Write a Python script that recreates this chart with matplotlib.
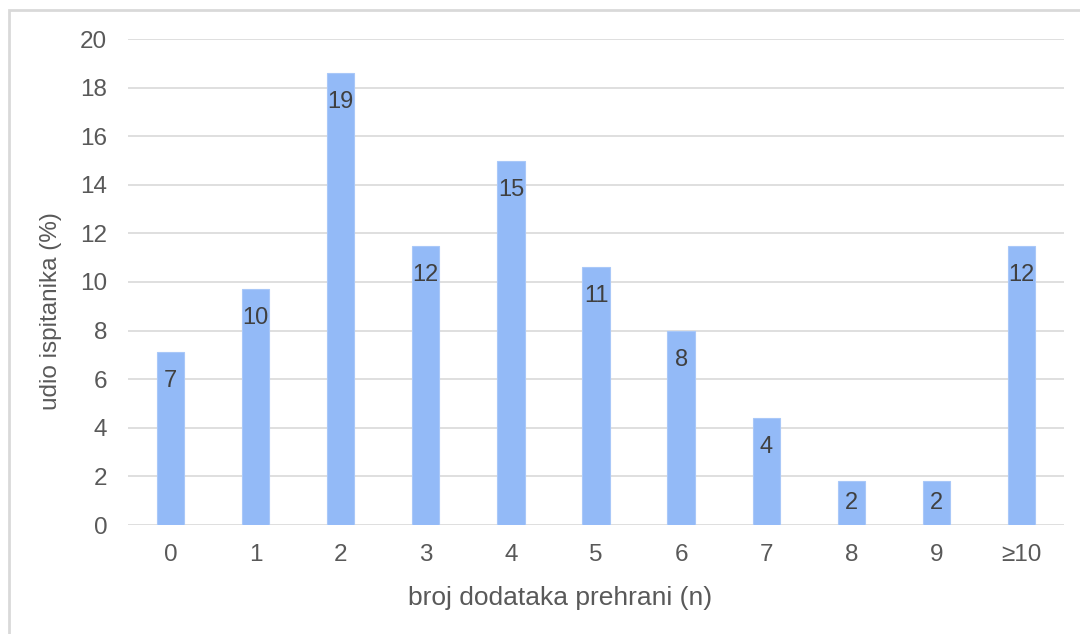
import matplotlib
matplotlib.use("Agg")
import matplotlib.pyplot as plt
from matplotlib.patches import Rectangle

categories = ["0", "1", "2", "3", "4", "5", "6", "7", "8", "9", "≥10"]
values = [7.1, 9.7, 18.6, 11.5, 15.0, 10.6, 8.0, 4.4, 1.8, 1.8, 11.5]
labels = ["7", "10", "19", "12", "15", "11", "8", "4", "2", "2", "12"]
yticks = [0, 2, 4, 6, 8, 10, 12, 14, 16, 18, 20]

plt.rcParams['font.family'] = ['Liberation Sans', 'DejaVu Sans']

W, H = 1080, 634
fig = plt.figure(figsize=(W / 100, H / 100), dpi=100)
ax = fig.add_axes([128 / W, (H - 525) / H, 936 / W, 486 / H])

# outer frame (clipped at right/bottom like the reference)
fig.patches.append(Rectangle((9 / W, -0.1), 1.2, (H - 10) / H + 0.1,
                             transform=fig.transFigure, fill=False,
                             edgecolor='#D9D9D9', linewidth=2.0))

x = list(range(len(categories)))
ax.bar(x, values, width=0.32, color='#93BAF7', edgecolor='#A9C8F8',
       linewidth=0.8, zorder=3)

ax.set_xlim(-0.5, len(categories) - 0.5)
ax.set_ylim(0, 20)
ax.set_yticks(yticks)
ax.set_xticks(x)
ax.set_xticklabels(categories)
ax.grid(axis='y', color='#D9D9D9', linewidth=1.2, zorder=0)
ax.set_axisbelow(True)
for s in ax.spines.values():
    s.set_visible(False)
ax.tick_params(axis='both', length=0, labelsize=17.5, labelcolor='#595959')
ax.tick_params(axis='y', pad=15)
ax.tick_params(axis='x', pad=14)

px_per_unit = 486 / 20
off = 29 / px_per_unit
for xi, v, lab in zip(x, values, labels):
    ly = max(v - off, v / 2)
    ax.text(xi, ly, lab, ha='center', va='center', fontsize=17,
            color='#404040', zorder=4)

ax.set_xlabel("broj dodataka prehrani (n)", fontsize=19, color='#595959')
ax.xaxis.set_label_coords((560 - 128) / 936, -(598 - 525) / 486)
ax.set_ylabel("udio ispitanika (%)", fontsize=17.5, color='#595959')
ax.yaxis.set_label_coords((51 - 128) / 936, (525 - 311) / 486)
ax.xaxis.label.set_va('center')
ax.yaxis.label.set_va('center')

fig.savefig("out.png", dpi=100, facecolor='white')
